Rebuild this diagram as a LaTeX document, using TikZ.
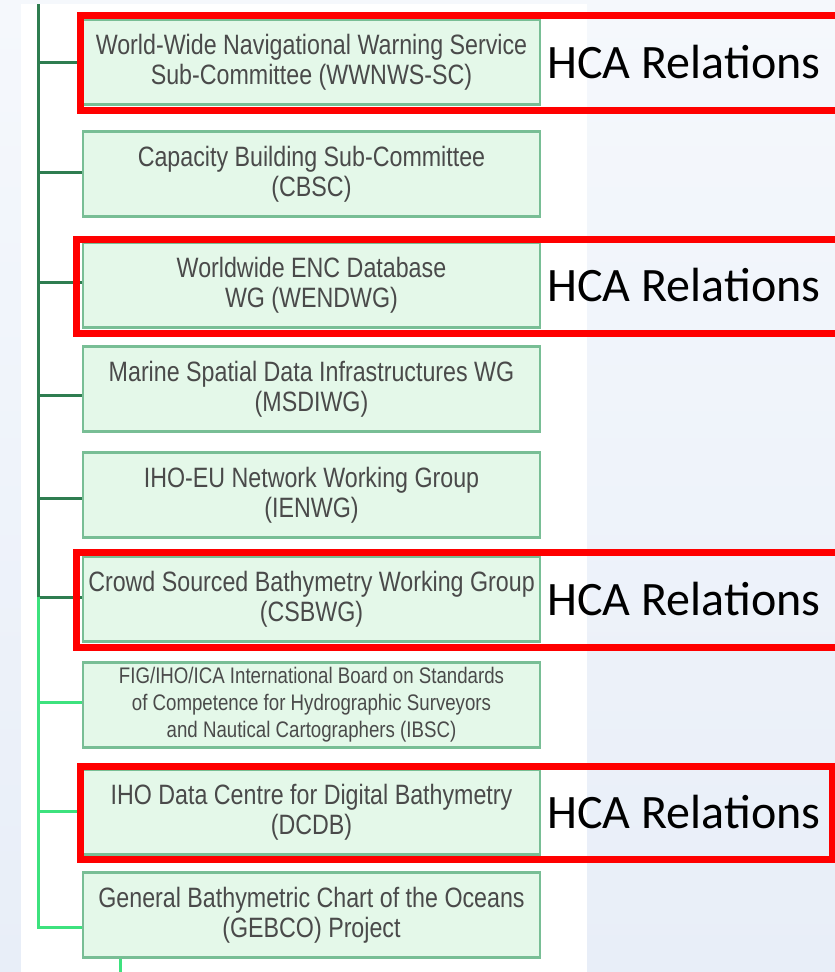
\documentclass[tikz,border=0pt]{standalone}
\usepackage{fontspec}
\usetikzlibrary{positioning,calc}
\newfontfamily\hcafont{Carlito}
\newfontfamily\unitfont[FakeStretch=0.83]{Liberation Sans}
\definecolor{unitfill}{HTML}{E4F8E9}
\definecolor{unitline}{HTML}{78BE95}
\definecolor{unittext}{HTML}{4A4A4A}
\definecolor{linkdark}{HTML}{2F7D50}
\definecolor{linkbright}{HTML}{3DE27E}
\definecolor{hcared}{HTML}{FF0000}
\definecolor{bgtop}{HTML}{F5F8FC}
\definecolor{bgbottom}{HTML}{E8EEF8}
\tikzset{
	unit/.style = {draw=unitline, fill=unitfill, line width=2.5pt, minimum width=457pt, minimum height=85pt, inner sep=0pt, align=center, text=unittext, font=\unitfont\fontsize{28}{30}\selectfont},
	hcaframe/.style = {draw=hcared, line width=7pt},
	hcatext/.style = {inner sep=0pt, font=\hcafont\fontsize{48}{50}\selectfont},
	oldlink/.style = {draw=linkdark, line width=3pt},
	newlink/.style = {draw=linkbright, line width=3pt},
}
\begin{document}
\begin{tikzpicture}[x=1pt, y=-1pt]
	\useasboundingbox (0,0) rectangle (835,972);
	\clip (0,0) rectangle (835,972);
	\shade[top color=bgtop, bottom color=bgbottom] (0,0) rectangle (835,972);
	\fill[white] (21,4) rectangle (587,972); %pasted chart
	\node[unit] (a) at (311.5,62) {World-Wide Navigational Warning Service\\Sub-Committee (WWNWS-SC)};
	\node[unit] (b) at (311.5,174) {Capacity Building Sub-Committee\\(CBSC)};
	\node[unit] (c) at (311.5,285) {Worldwide ENC Database\\WG (WENDWG)};
	\node[unit] (d) at (311.5,389) {Marine Spatial Data Infrastructures WG\\(MSDIWG)};
	\node[unit] (e) at (311.5,495) {IHO-EU Network Working Group\\(IENWG)};
	\node[unit] (f) at (311.5,599) {Crowd Sourced Bathymetry Working Group\\(CSBWG)};
	\node[unit, font=\unitfont\fontsize{22.5}{27}\selectfont] (g) at (311.5,705) {FIG/IHO/ICA International Board on Standards\\of Competence for Hydrographic Surveyors\\and Nautical Cartographers (IBSC)};
	\node[unit] (h) at (311.5,812) {IHO Data Centre for Digital Bathymetry\\(DCDB)};
	\node[unit] (i) at (311.5,915) {General Bathymetric Chart of the Oceans\\(GEBCO) Project};
	\coordinate (t0) at (38,4);
	\coordinate (t1) at (38,597);
	\coordinate (tail) at (120,972);
	\draw[oldlink] (t0) -- (t1);
	\foreach \n/\s in {a/0, b/-2, c/-3, d/6, e/3, f/-2} {
		\coordinate (j) at ($(\n.west)+(0,\s)$);
		\draw[oldlink] (t0 |- j) -- (j);
	}
	\foreach \n/\s in {g/-3, h/-1} {
		\coordinate (j) at ($(\n.west)+(0,\s)$);
		\draw[newlink] (t0 |- j) -- (j);
	}
	\coordinate (j9) at ($(i.west)+(0,12)$);
	\draw[newlink] (t1) -- (t0 |- j9) -- (j9);
	\draw[newlink] (tail |- i.south) -- (tail);
	% highlights
	\draw[hcaframe] (80,15.5) rectangle (850,110);
	\draw[hcaframe] (76,239) rectangle (850,333);
	\draw[hcaframe] (76,552) rectangle (850,647);
	\draw[hcaframe] (80,766) rectangle (832,859);
	\node[hcatext, right=6pt of a] (ra) {HCA Relations};
	\node[hcatext, right=6pt of c] (rc) {HCA Relations};
	\node[hcatext, right=6pt of f] (rf) {HCA Relations};
	\node[hcatext, right=6pt of h] (rh) {HCA Relations};
\end{tikzpicture}
\end{document}
